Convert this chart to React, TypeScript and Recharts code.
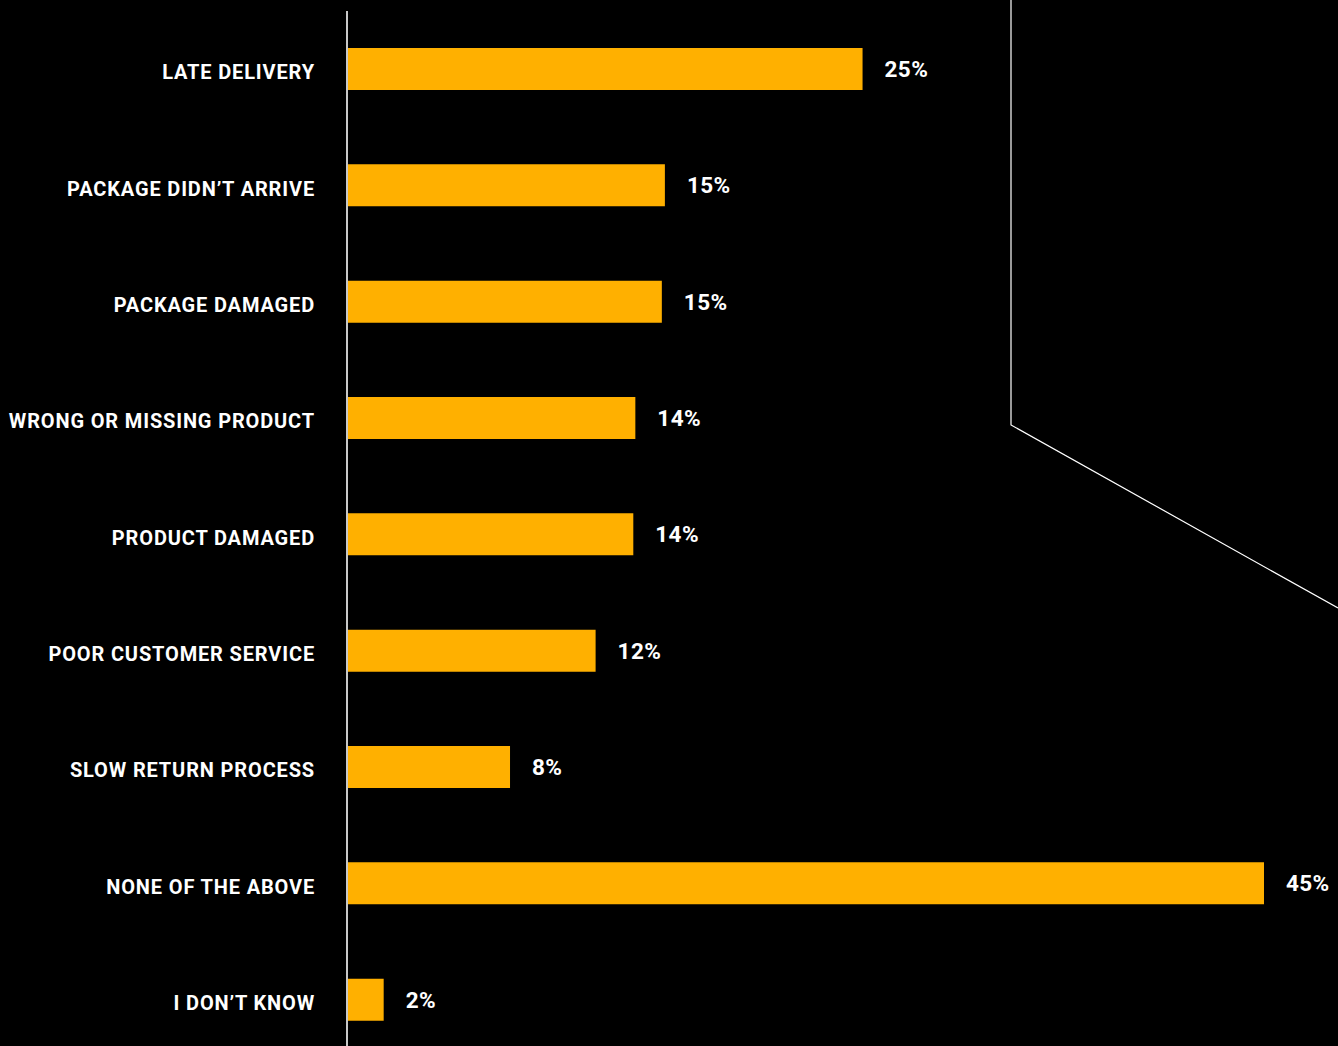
import React from 'react';
import { BarChart, Bar, XAxis, YAxis, LabelList } from 'recharts';

const categories = [
  'LATE DELIVERY',
  'PACKAGE DIDN\u2019T ARRIVE',
  'PACKAGE DAMAGED',
  'WRONG OR MISSING PRODUCT',
  'PRODUCT DAMAGED',
  'POOR CUSTOMER SERVICE',
  'SLOW RETURN PROCESS',
  'NONE OF THE ABOVE',
  'I DON\u2019T KNOW',
];
const shares = [25.3, 15.6, 15.45, 14.15, 14.05, 12.2, 8.0, 45.0, 1.8];
const shareLabels = ['25%', '15%', '15%', '14%', '14%', '12%', '8%', '45%', '2%'];

const data = categories.map((c, i) => ({ name: c, value: shares[i], label: shareLabels[i] }));

const font = 'Roboto, "Noto Sans", sans-serif';

const CategoryTick = (props: any) => {
  const { x, y, payload } = props;
  return (
    <text
      x={x}
      y={y + 3}
      textAnchor="end"
      dominantBaseline="central"
      fill="#fff"
      fontSize={20}
      fontWeight={700}
      fontFamily={font}
      letterSpacing={0.85}
    >
      {payload.value}
    </text>
  );
};

const App: React.FC = () => {
  return (
    <div style={{ position: 'absolute', left: 0, top: 0, width: 1338, height: 1046, background: '#000', overflow: 'hidden' }}>
      <BarChart
        width={1338}
        height={1058}
        data={data}
        layout="vertical"
        margin={{ top: 11, right: 74, bottom: 0, left: 0 }}
        barSize={42}
      >
        <XAxis type="number" hide domain={[0, 45]} />
        <YAxis
          type="category"
          dataKey="name"
          width={347}
          tickLine={false}
          tickSize={0}
          tickMargin={32}
          axisLine={{ stroke: '#c8c8c8', strokeWidth: 2 }}
          tick={<CategoryTick />}
          interval={0}
        />
        <Bar dataKey="value" fill="#FFB000" isAnimationActive={false}>
          <LabelList
            dataKey="label"
            position="right"
            offset={22}
            fill="#fff"
            style={{ fontSize: 22.5, fontWeight: 700, fontFamily: font, letterSpacing: 0.4 }}
          />
        </Bar>
      </BarChart>
      <svg width={1338} height={1046} style={{ position: 'absolute', left: 0, top: 0, pointerEvents: 'none' }}>
        <polyline points="1011,0 1011,425 1338,608" fill="none" stroke="#fff" strokeWidth={1.2} />
      </svg>
    </div>
  );
};

export default App;
